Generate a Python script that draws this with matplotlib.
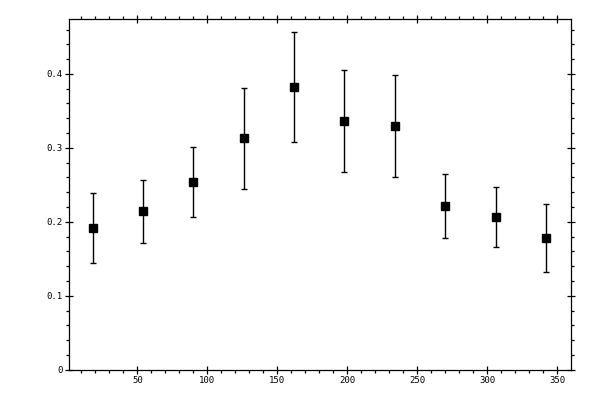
import matplotlib
matplotlib.use("Agg")
import matplotlib.pyplot as plt
from matplotlib.ticker import MultipleLocator, FuncFormatter

x = [18, 54, 90, 126, 162, 198, 234, 270, 306, 342]
y = [0.191, 0.214, 0.254, 0.313, 0.382, 0.336, 0.329, 0.221, 0.206, 0.178]
y_hi = [0.239, 0.256, 0.301, 0.381, 0.457, 0.405, 0.398, 0.264, 0.247, 0.224]
y_lo = [0.144, 0.172, 0.206, 0.245, 0.308, 0.267, 0.260, 0.178, 0.166, 0.132]

err_lo = [v - l for v, l in zip(y, y_lo)]
err_hi = [h - v for v, h in zip(y, y_hi)]

fig = plt.figure(figsize=(6, 4), dpi=100)
ax = fig.add_axes([0.1155, 0.0758, 0.951 - 0.1155, 0.952 - 0.0758])
ax.errorbar(x, y, yerr=[err_lo, err_hi], fmt='s', color='black', ms=5.2,
            elinewidth=1, capsize=2.5, capthick=1, ecolor='black')
ax.set_xlim(1.4, 359.6)
ax.set_ylim(0, 0.474)
ax.xaxis.set_major_locator(MultipleLocator(50))
ax.xaxis.set_minor_locator(MultipleLocator(10))
ax.yaxis.set_major_locator(MultipleLocator(0.1))
ax.yaxis.set_minor_locator(MultipleLocator(0.02))
ax.yaxis.set_major_formatter(FuncFormatter(lambda v, p: "0" if abs(v) < 1e-9 else f"{v:.1f}"))
ax.xaxis.set_major_formatter(FuncFormatter(lambda v, p: f"{int(round(v))}"))
for s in ax.spines.values():
    s.set_linewidth(0.9)
ax.tick_params(which='major', direction='inout', length=5.5, width=0.9,
               top=True, right=True, labelsize=6.5, pad=2)
ax.tick_params(which='minor', direction='out', length=2.5, width=0.9,
               top=True, right=True)
for lab in ax.get_xticklabels() + ax.get_yticklabels():
    lab.set_family('DejaVu Sans Mono')
fig.savefig("out.png", dpi=100)
